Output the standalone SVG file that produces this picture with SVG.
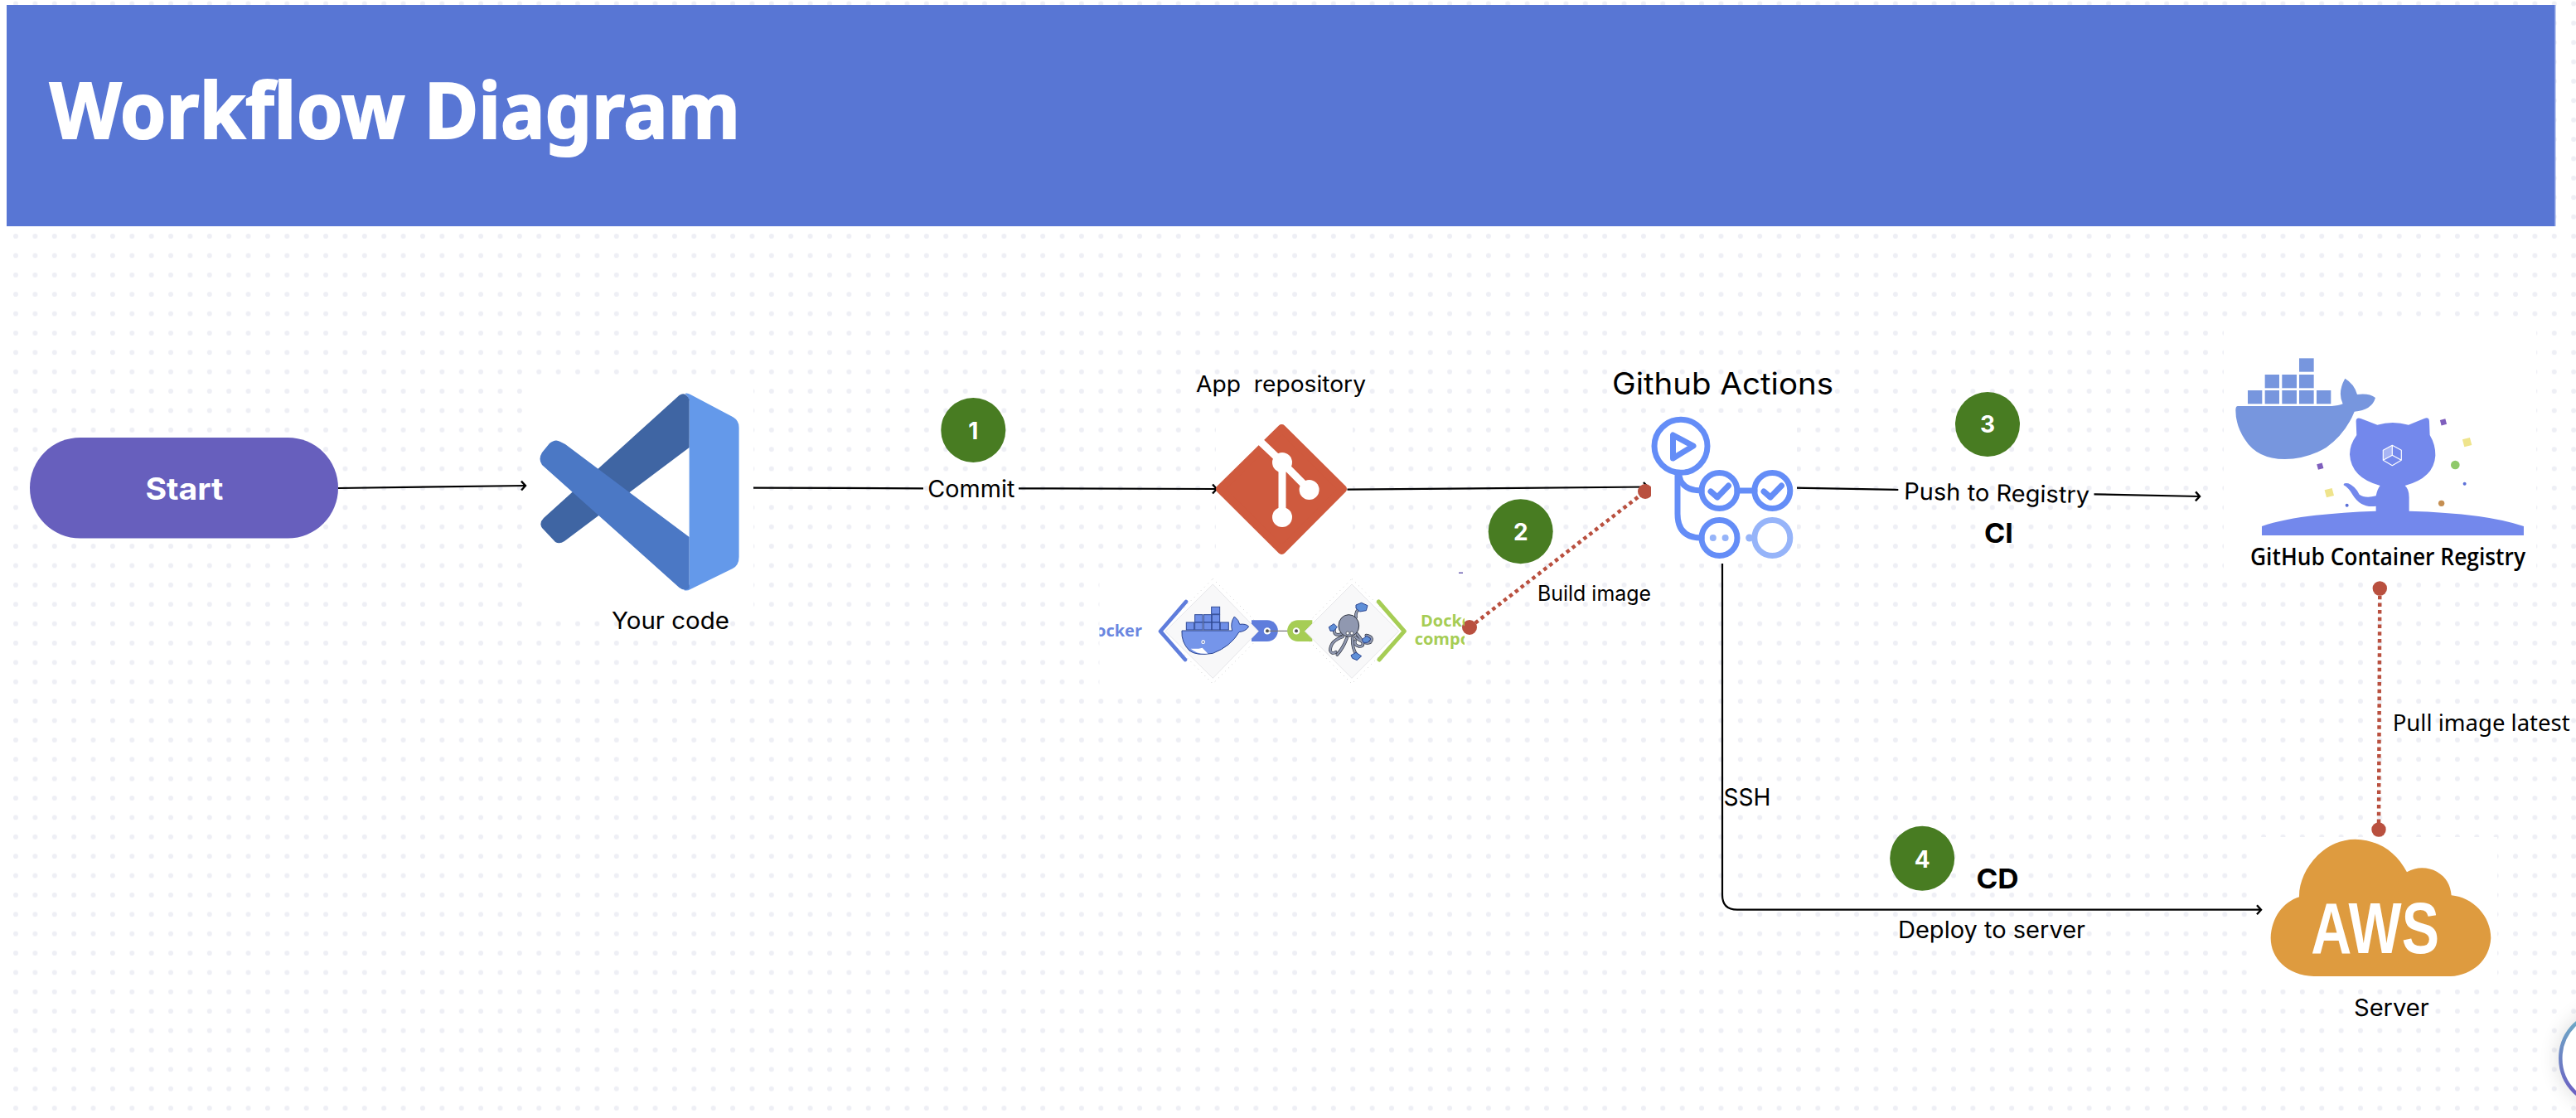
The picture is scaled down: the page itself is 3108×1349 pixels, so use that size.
<svg xmlns="http://www.w3.org/2000/svg" width="3108" height="1349" viewBox="0 0 3108 1349">
<style>
text{font-family:"Inter","Noto Sans",sans-serif;fill:#000}
.lbl{font-size:28px}
.num{font-size:28px;font-weight:700;fill:#fff;text-anchor:middle}
.badge{fill:#487c22}
.bold{font-weight:700;font-size:33px}
.line{fill:none;stroke:#000;stroke-width:2.2}
.dotted{fill:none;stroke:#b9503f;stroke-width:4.5;stroke-dasharray:4.5 4.2}
.rdot{fill:#b9503f}
.patch{fill:#fff}
.ga{fill:none;stroke:#648df7;stroke-width:7;stroke-linecap:round;stroke-linejoin:round}
.gal{fill:none;stroke:#96b4f9;stroke-width:7}
.whale{fill:#7796de}
.cat{fill:#7388ec}
.dia{fill:#f8f8f9;stroke:#e6e6e9;stroke-width:3;stroke-linejoin:round}
.outl{fill:none;stroke:#8b8b8b;stroke-width:2.4;stroke-dasharray:1.5 16}
.box{fill:#6f8fe8;stroke:#2f4a96;stroke-width:3}
.arm{fill:none;stroke:#2f3440;stroke-width:11;stroke-linecap:round}
.arm2{fill:none;stroke:#9098b0;stroke-width:7;stroke-linecap:round}
.cube{fill:#5f8fd8;stroke:#2b448f;stroke-width:3}
</style>
<defs>
<pattern id="dots" x="19" y="4.4" width="23.38" height="23.38" patternUnits="userSpaceOnUse">
<circle cx="0" cy="0" r="3" fill="#eeeff5"/><circle cx="23.38" cy="0" r="3" fill="#eeeff5"/><circle cx="0" cy="23.38" r="3" fill="#eeeff5"/><circle cx="23.38" cy="23.38" r="3" fill="#eeeff5"/>
</pattern>
<marker id="arr" markerUnits="userSpaceOnUse" markerWidth="14" markerHeight="16" refX="8" refY="8" orient="auto" overflow="visible">
<path d="M3,2.5 L8,8 L3,13.5" fill="none" stroke="#000" stroke-width="2.4"/>
</marker>
<linearGradient id="ring" x1="0" y1="0" x2="0" y2="1"><stop offset="0" stop-color="#6eb2c6"/><stop offset="1" stop-color="#6b55c2"/></linearGradient>
<filter id="soft" x="-50%" y="-50%" width="200%" height="200%"><feGaussianBlur stdDeviation="12"/></filter>
<clipPath id="cmp"><rect x="1326.5" y="692" width="440.5" height="140"/></clipPath>
</defs>
<rect width="3108" height="1349" fill="#fff"/>
<rect id="grid" width="3108" height="1349" fill="url(#dots)"/>
<rect class="patch" x="631" y="460" width="278" height="272"/>
<rect class="patch" x="1467" y="505" width="165" height="167"/>
<rect class="patch" x="1326.5" y="692" width="440.5" height="140"/>
<rect class="patch" x="2683" y="388" width="377" height="307"/>
<rect class="patch" x="2728" y="1010" width="285" height="173"/>

<g id="header">
<rect x="8" y="6" width="3075" height="267" fill="#5876d4"/>
<rect x="3082" y="6" width="1.5" height="267" fill="#8ea3e6"/>
<text x="60" y="167" font-size="94" font-weight="700" textLength="833" lengthAdjust="spacingAndGlyphs" stroke="#fff" stroke-width="2" style="fill:#fff;font-family:'Noto Sans','Open Sans',sans-serif">Workflow Diagram</text>
</g>

<g id="connectors">
<path class="line" d="M408,589 L634,586" marker-end="url(#arr)"/>
<path class="line" d="M909,588.6 L1114,589.3" stroke-width="1.8"/>
<path class="line" d="M1229,589.3 L1468,590" marker-end="url(#arr)"/>
<path class="line" d="M1625.5,590.7 L1988,587.5" marker-end="url(#arr)"/>
<path class="line" d="M2164.3,588.7 L2290.3,591"/>
<path class="line" d="M2526.5,596.3 L2654,599" marker-end="url(#arr)"/>
<path class="line" d="M2078,674 V1080 Q2078,1097.7 2096,1097.7 H2728" marker-end="url(#arr)"/>
<path class="dotted" d="M1773,757 L1985,593"/>
<circle class="rdot" cx="1773" cy="757" r="9"/>
<circle class="rdot" cx="1985" cy="593" r="9"/>
<path class="dotted" d="M2871.3,710 L2870,1001"/>
<circle class="rdot" cx="2871.3" cy="710" r="8.7"/>
<circle class="rdot" cx="2870" cy="1001" r="8.7"/>
</g>

<g id="start">
<rect x="36" y="528" width="372" height="121.500" rx="60.700" fill="#675fbd"/>
<text x="175.400" y="603" font-size="37" font-weight="700" textLength="94" lengthAdjust="spacingAndGlyphs" style="fill:#fff">Start</text>
</g>

<g id="vscode">
<path fill="#6499ea" d="M826,475 Q829,473.500 833,476 L884,503 Q891.600,507 891.600,516 L891.600,672 Q891.600,682 884,686 L833,711 Q829,713.500 825,712 Q830,710 831.600,705 L831.600,484 Q830,477 826,475Z"/>
<path fill="#3f65a3" d="M819.500,477 Q827,472 831.600,482 L831.600,540 L681,653 Q675,657 670,654 L654,637 Q650,631 656,625Z"/>
<path fill="#4b78c5" d="M676,533 Q670,529 663,535 L654,546 Q649,554 654,561 L819.500,709 Q826,714 831.600,710 L831.600,648 L682,536Z"/>
<text x="738" y="759" font-size="29" textLength="142" lengthAdjust="spacingAndGlyphs">Your code</text>
</g>

<g id="step1">
<circle class="badge" cx="1174.300" cy="519" r="39"/>
<text class="num" x="1174.300" y="530">1</text>
<text class="lbl" x="1119.300" y="600" textLength="105" lengthAdjust="spacingAndGlyphs">Commit</text>
</g>

<g id="git">
<text x="1443" y="472.700" font-size="27" textLength="205" lengthAdjust="spacingAndGlyphs" xml:space="preserve">App  repository</text>
<path fill="#cf5a3e" stroke="#cf5a3e" stroke-width="10" stroke-linejoin="round" d="M1546.400,517 L1620,590 L1546.400,664 L1472,590Z"/>
<path fill="none" stroke="#fff" stroke-width="9" d="M1519.400,531.700 L1547,558 L1579.600,591 M1547,558 V624"/>
<circle cx="1547" cy="558" r="12" fill="#fff"/>
<circle cx="1579.600" cy="591" r="12" fill="#fff"/>
<circle cx="1547" cy="624" r="12" fill="#fff"/>
</g>

<g id="docker-compose" clip-path="url(#cmp)">
<g transform="translate(1330 690) scale(.3333)">
<path class="outl" d="M400,25 L590,215 L400,405 L210,215Z"/>
<path d="M540,175 H597 A38.500,38.500 0 0 1 597,252 H540Z" fill="#5f7ddc"/>
<path class="dia" d="M400,45 L565,215 L400,385 L228,215Z"/>
<path d="M303,108 L210,215 L300,318" fill="none" stroke="#5f7ddc" stroke-width="14" stroke-linecap="round" stroke-linejoin="round"/>
<g class="box"><rect x="304" y="183" width="28" height="27"/><rect x="335" y="183" width="28" height="27"/><rect x="367" y="183" width="28" height="27"/><rect x="397" y="183" width="28" height="27"/><rect x="427" y="183" width="30" height="27"/><rect x="335" y="155" width="28" height="27"/><rect x="367" y="155" width="28" height="27"/><rect x="397" y="155" width="28" height="27"/><rect x="395" y="127" width="30" height="26"/></g>
<path d="M288,213 L470,213 Q462,185 478,162 Q495,175 497,190 Q520,187 530,198 Q520,215 495,218 Q465,270 400,295 Q340,305 315,285 Q285,255 288,213Z" fill="#7595ea" stroke="#2b448f" stroke-width="3"/>
<path d="M320,278 Q345,280 362,275 Q375,288 382,296 Q345,300 320,278Z" fill="#fff"/>
<circle cx="365" cy="254" r="7" fill="#fff"/><circle cx="365" cy="254" r="3" fill="#2b448f"/>
<circle cx="597" cy="214" r="12.500" fill="#fff"/><circle cx="597" cy="214" r="6" fill="#555"/>
<path d="M604,214 H660" stroke="#777" stroke-width="3.500"/>
</g>
<g transform="translate(1550 690) scale(.3333)">
<path d="M0,214 H34" stroke="#777" stroke-width="3.500"/>
<path class="outl" d="M243,25 L433,215 L243,405 L53,215Z"/>
<path d="M100,175 H48 A38.500,38.500 0 0 0 48,252 H100Z" fill="#a6cd55"/>
<path class="dia" d="M243,45 L413,215 L243,385 L73,215Z"/>
<path d="M340,108 L433,215 L342,318" fill="none" stroke="#a6cd55" stroke-width="15" stroke-linecap="round" stroke-linejoin="round"/>
<circle cx="42" cy="214" r="12.500" fill="#fff"/><circle cx="42" cy="214" r="6" fill="#555"/>
<g class="arm"><path d="M205,225 Q175,235 180,205"/><path d="M210,235 Q165,250 165,285 Q170,300 185,290"/><path d="M225,240 Q212,275 190,300"/><path d="M245,240 Q245,280 260,300"/><path d="M255,235 Q290,265 310,255 Q325,235 295,230"/><path d="M262,225 Q300,270 270,270 Q250,265 255,250"/><path d="M258,165 Q255,140 275,130"/></g>
<g class="arm2"><path d="M205,225 Q175,235 180,205"/><path d="M210,235 Q165,250 165,285 Q170,300 185,290"/><path d="M225,240 Q212,275 190,300"/><path d="M245,240 Q245,280 260,300"/><path d="M255,235 Q290,265 310,255 Q325,235 295,230"/><path d="M262,225 Q300,270 270,270 Q250,265 255,250"/><path d="M258,165 Q255,140 275,130"/></g>
<ellipse cx="232" cy="195" rx="37" ry="40" fill="#9098b0" stroke="#2f3440" stroke-width="3"/>
<circle cx="228" cy="222" r="6" fill="#fff" stroke="#2f3440" stroke-width="2"/><circle cx="243" cy="222" r="6" fill="#fff" stroke="#2f3440" stroke-width="2"/>
<path class="cube" d="M258,120 L278,112 L300,122 L295,140 L272,144 L258,132Z"/>
<path class="cube" d="M160,200 L178,188 L190,200 L178,214 L165,214Z"/>
<path class="cube" d="M280,245 L297,232 L312,243 L300,256 L285,256Z"/>
<path class="cube" d="M240,302 L258,292 L278,305 L262,320 L245,313Z"/>
</g>
<text x="1378" y="768.300" font-size="20" font-weight="700" text-anchor="end" style="fill:#6b86e0;font-family:'Open Sans',sans-serif">Docker</text>
<text x="1714" y="755.500" font-size="20" font-weight="700" style="fill:#a6cd55;font-family:'Open Sans',sans-serif">Docker</text>
<text x="1706.700" y="777.500" font-size="20" font-weight="700" style="fill:#a6cd55;font-family:'Open Sans',sans-serif">compose</text>
</g>
<rect x="1760" y="690.500" width="5" height="1.500" fill="#6a5fb0"/>

<g id="step2">
<circle class="badge" cx="1834.700" cy="641.300" r="39"/>
<text class="num" x="1834.700" y="652">2</text>
<text x="1855" y="725" font-size="25" textLength="137" lengthAdjust="spacingAndGlyphs">Build image</text>
</g>

<g id="github-actions">
<rect class="patch" x="1992" y="498" width="176" height="182"/>
<text x="1945" y="476" font-size="37" textLength="267" lengthAdjust="spacingAndGlyphs">Github Actions</text>
<circle class="ga" cx="2028" cy="538.300" r="32"/>
<path class="ga" d="M2018.500,525 V553 L2043,538Z"/>
<circle class="ga" cx="2074.500" cy="592" r="21.500"/>
<circle class="ga" cx="2138.300" cy="592" r="21.500"/>
<circle class="ga" cx="2074.500" cy="649" r="21.500"/>
<circle class="gal" cx="2138.300" cy="649" r="21.500"/>
<path class="ga" d="M2096,592 H2117"/>
<path class="ga" d="M2024,574 V620 Q2024,649 2053,649"/>
<path class="ga" d="M2026,574 Q2029,592 2053,592"/>
<circle cx="2110.700" cy="649" r="4.500" fill="#96b4f9"/>
<circle cx="2066.800" cy="649" r="4" fill="#96b4f9"/>
<circle cx="2081.600" cy="649" r="4" fill="#96b4f9"/>
<path class="ga" stroke-width="5" d="M2064,593 L2072,600 L2085.500,586"/>
<path class="ga" stroke-width="5" d="M2128,593 L2136,600 L2149.500,586"/>
</g>

<g id="step3">
<circle class="badge" cx="2398" cy="512" r="39"/>
<text class="num" x="2398" y="522">3</text>
<text class="lbl" x="2297" y="602.500" textLength="224" lengthAdjust="spacingAndGlyphs" transform="rotate(1.200 2297 602.500)">Push to Registry</text>
<text class="bold" x="2393.900" y="655" textLength="35" lengthAdjust="spacingAndGlyphs">CI</text>
</g>

<g id="registry">
<g transform="translate(2600 400) scale(.3333)">
<g class="whale">
<rect x="336" y="213" width="52" height="49"/><rect x="398" y="213" width="52" height="49"/><rect x="460" y="213" width="53" height="49"/><rect x="522" y="213" width="53" height="49"/><rect x="585" y="213" width="52" height="49"/>
<rect x="398" y="156" width="52" height="49"/><rect x="460" y="156" width="53" height="49"/><rect x="522" y="156" width="53" height="49"/>
<rect x="522" y="97" width="53" height="49"/>
<path d="M300,270 L640,270 Q665,268 680,262 Q660,220 688,170 Q722,190 732,228 Q775,222 798,240 Q785,285 722,290 Q690,370 620,420 Q550,462 470,462 Q370,462 325,390 Q292,340 292,285 Q292,270 300,270Z"/>
</g>
<path class="cat" d="M728,325 Q728,310 745,315 L805,338 Q860,322 918,338 L975,315 Q992,308 993,325 L995,375 Q1016,410 1015,450 Q1010,530 905,558 Q920,570 920,600 L920,650 Q1200,658 1335,705 V738 H387 V705 Q520,660 800,650 L800,632 Q745,640 715,590 Q700,565 683,556 Q682,546 700,550 Q725,560 740,590 Q760,605 800,595 Q805,570 815,558 Q710,530 705,445 Q705,410 730,375Z"/>
<path d="M859,412 L826,430 V466 L859,448Z" fill="#a8b5f4"/>
<path d="M859,412 L892,430 V466 L859,485 L826,466 V430Z M826,466 L859,448 L892,466 M859,412 V448" fill="none" stroke="#fff" stroke-width="3.500" stroke-linejoin="round"/>
<rect x="1034" y="318" width="20" height="20" fill="#7f5fbd" transform="rotate(-15 1044 328)"/>
<rect x="588" y="478" width="20" height="20" fill="#7f5fbd" transform="rotate(-15 598 488)"/>
<rect x="1116" y="387" width="28" height="28" fill="#efe48c" transform="rotate(-15 1130 401)"/>
<rect x="617" y="570" width="28" height="28" fill="#efe48c" transform="rotate(-15 631 584)"/>
<circle cx="1087" cy="483" r="16" fill="#8fc96a"/>
<circle cx="1121" cy="551" r="6" fill="#5c70d8"/>
<circle cx="695" cy="629" r="6" fill="#5c70d8"/>
<circle cx="1037" cy="622" r="11" fill="#c58f52"/>
</g>
<text x="2715" y="681.700" font-size="28" font-weight="600" textLength="332" lengthAdjust="spacingAndGlyphs" style="font-family:'Open Sans',sans-serif">GitHub Container Registry</text>
</g>

<g id="pull-label">
<text class="lbl" x="2886.700" y="881.700" textLength="214" lengthAdjust="spacingAndGlyphs" style="font-family:'Noto Sans',sans-serif">Pull image latest</text>
</g>

<g id="step4">
<text x="2079.500" y="971.700" font-size="29" textLength="57" lengthAdjust="spacingAndGlyphs">SSH</text>
<circle class="badge" cx="2319.200" cy="1035.700" r="39"/>
<text class="num" x="2319.200" y="1046.700">4</text>
<text class="bold" x="2384.400" y="1071.700" textLength="51.300" lengthAdjust="spacingAndGlyphs">CD</text>
<text class="lbl" x="2290" y="1131.700" textLength="226" lengthAdjust="spacingAndGlyphs">Deploy to server</text>
</g>

<g id="aws">
<g transform="translate(2600 950) scale(.3333)">
<path fill="#de9b3f" d="M575,684 C480,680 419,620 419,545 C422,470 465,415 522,397 C520,300 610,188 725,188 C810,190 875,235 912,307 C950,285 990,290 1020,305 C1055,325 1070,355 1073,391 C1150,398 1216,465 1216,545 C1212,625 1150,680 1070,684Z"/>
</g>
<text x="2788.300" y="1150" font-size="88" font-weight="700" textLength="154.700" lengthAdjust="spacingAndGlyphs" style="fill:#fff;font-family:'Liberation Sans',sans-serif">AWS</text>
<text class="lbl" x="2840" y="1226" textLength="90.700" lengthAdjust="spacingAndGlyphs">Server</text>
</g>

<g id="corner-ring">
<circle cx="3146" cy="1277" r="60" fill="#000" opacity=".13" filter="url(#soft)"/>
<circle cx="3146" cy="1277" r="56.700" fill="#fff" stroke="url(#ring)" stroke-width="4.500"/>
</g>
</svg>
